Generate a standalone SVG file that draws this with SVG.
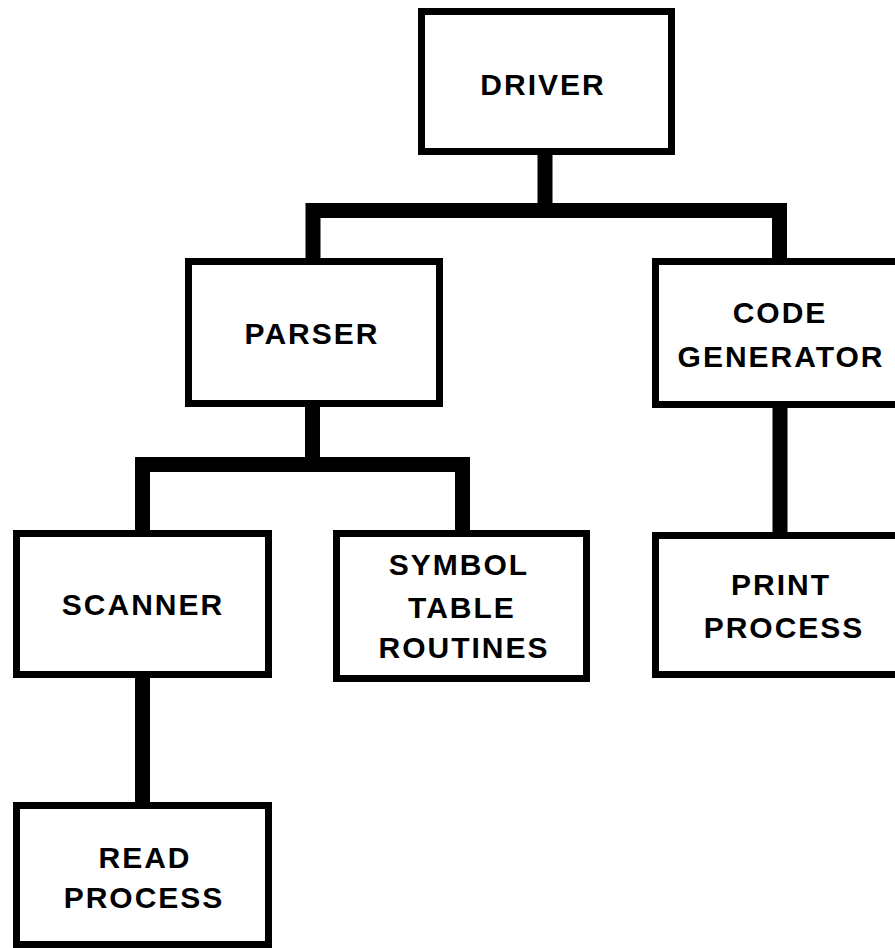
<svg xmlns="http://www.w3.org/2000/svg" width="895" height="948" viewBox="0 0 895 948">
<style>
.box{fill:#fff;stroke:#000;stroke-width:7}
.lbl{font-family:"Liberation Sans",Arial,sans-serif;font-weight:bold;font-size:30px;letter-spacing:2px;text-anchor:middle;fill:#000}
.conn{fill:none;stroke:#000;stroke-width:15;stroke-linejoin:miter;stroke-linecap:butt}
</style>
<rect width="895" height="948" fill="#fff"/>
<g id="connectors">
<path class="conn" d="M545,155 V210"/>
<path class="conn" d="M313,262 V210.5 H779.5 V262"/>
<path class="conn" d="M312.5,405 V464.5"/>
<path class="conn" d="M142.5,534 V464.5 H462.5 V534"/>
<path class="conn" d="M780,406 V534"/>
<path class="conn" d="M142.5,676 V804"/>
</g>
<g id="driver">
<rect class="box" x="421.5" y="11.5" width="250" height="140"/>
<text class="lbl" x="543" y="95">DRIVER</text>
</g>
<g id="parser">
<rect class="box" x="188.5" y="261.5" width="251" height="142"/>
<text class="lbl" x="312" y="344">PARSER</text>
</g>
<g id="code-generator">
<rect class="box" x="655.5" y="261.5" width="300" height="143"/>
<text class="lbl" x="780" y="323">CODE</text>
<text class="lbl" x="781" y="367">GENERATOR</text>
</g>
<g id="scanner">
<rect class="box" x="16.5" y="533.5" width="252" height="141"/>
<text class="lbl" x="143" y="615">SCANNER</text>
</g>
<g id="symbol-table-routines">
<rect class="box" x="336.5" y="533.5" width="250" height="145"/>
<text class="lbl" x="459" y="575">SYMBOL</text>
<text class="lbl" x="462" y="618">TABLE</text>
<text class="lbl" x="464" y="658">ROUTINES</text>
</g>
<g id="print-process">
<rect class="box" x="655.5" y="535.5" width="300" height="139"/>
<text class="lbl" x="781" y="595">PRINT</text>
<text class="lbl" x="784" y="638">PROCESS</text>
</g>
<g id="read-process">
<rect class="box" x="16.5" y="805.5" width="252" height="139"/>
<text class="lbl" x="145" y="868">READ</text>
<text class="lbl" x="144" y="908">PROCESS</text>
</g>
</svg>
